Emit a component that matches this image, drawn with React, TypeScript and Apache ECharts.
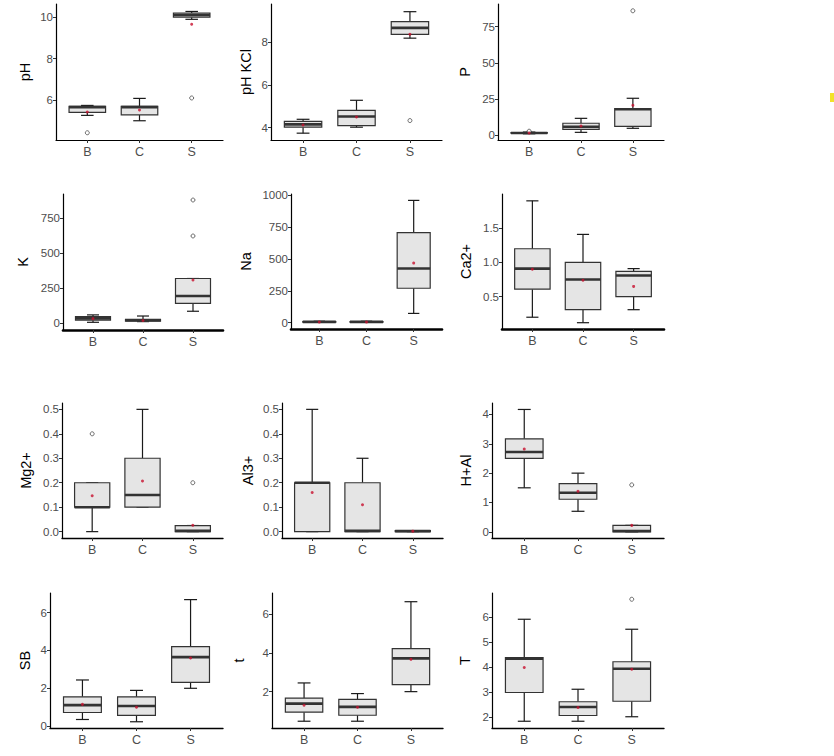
import { useEffect, useRef } from "react";
import * as echarts from "echarts";

const groups = ["B", "C", "S"];

// each box: [min, Q1, median, Q3, max] for B, C, S; outliers: [group (1..3), value]
const phBox = [[5.26, 5.4, 5.66, 5.7, 5.74], [5.0, 5.28, 5.66, 5.69, 6.08], [9.9, 10.0, 10.1, 10.2, 10.28]];
const phMean = [5.42, 5.52, 9.66];
const phOut = [[1, 4.42], [3, 6.1]];
const phTicks = [6, 8, 10];

const phkclBox = [[3.74, 4.02, 4.15, 4.29, 4.39], [4.02, 4.09, 4.52, 4.81, 5.28], [8.19, 8.37, 8.67, 8.96, 9.43]];
const phkclMean = [4.12, 4.5, 8.37];
const phkclOut = [[3, 4.33]];
const phkclTicks = [4, 6, 8];

const pBox = [[0.8, 1.2, 1.4, 1.7, 2.0], [1.8, 3.9, 5.7, 8.1, 11.5], [4.6, 6.0, 17.8, 18.2, 25.4]];
const pMean = [1.3, 6.2, 20.5];
const pOut = [[1, 2.6], [3, 86]];
const pTicks = [0, 25, 50, 75];

const kBox = [[7, 22, 35, 47, 60], [12, 15, 22, 28, 52], [86, 143, 195, 320, 320]];
const kMean = [33, 20, 309];
const kOut = [[3, 624], [3, 881]];
const kTicks = [0, 250, 500, 750];

const naBox = [[3, 5, 7, 9, 12], [3, 5, 7, 9, 12], [73, 270, 425, 705, 958]];
const naMean = [5, 5, 467];
const naOut: number[][] = [];
const naTicks = [0, 250, 500, 750, 1000];

const caBox = [[0.2, 0.61, 0.91, 1.2, 1.9], [0.12, 0.31, 0.75, 1.0, 1.41], [0.31, 0.5, 0.81, 0.87, 0.91]];
const caMean = [0.9, 0.74, 0.65];
const caOut: number[][] = [];
const caTicks = [0.5, 1.0, 1.5];

const mgBox = [[0, 0.1, 0.1, 0.2, 0.2], [0.1, 0.1, 0.15, 0.3, 0.5], [0, 0, 0.003, 0.025, 0.025]];
const mgMean = [0.147, 0.207, 0.026];
const mgOut = [[1, 0.4], [3, 0.2]];
const mgTicks = [0, 0.1, 0.2, 0.3, 0.4, 0.5];

const alBox = [[0, 0, 0.2, 0.2, 0.5], [0, 0, 0.003, 0.2, 0.3], [0, 0, 0.002, 0.004, 0.004]];
const alMean = [0.16, 0.11, 0.002];
const alOut: number[][] = [];
const alTicks = [0, 0.1, 0.2, 0.3, 0.4, 0.5];

const halBox = [[1.5, 2.5, 2.72, 3.17, 4.17], [0.7, 1.11, 1.33, 1.64, 2.0], [0, 0, 0.03, 0.22, 0.22]];
const halMean = [2.82, 1.38, 0.22];
const halOut = [[3, 1.6]];
const halTicks = [0, 1, 2, 3, 4];

const sbBox = [[0.35, 0.72, 1.11, 1.55, 2.44], [0.23, 0.57, 1.06, 1.55, 1.89], [2.0, 2.31, 3.65, 4.2, 6.69]];
const sbMean = [1.15, 1.0, 3.6];
const sbOut: number[][] = [];
const sbTicks = [0, 2, 4, 6];

const tBox = [[0.47, 0.94, 1.38, 1.66, 2.45], [0.47, 0.78, 1.21, 1.6, 1.9], [2.0, 2.36, 3.72, 4.22, 6.65]];
const tMean = [1.3, 1.19, 3.67];
const tOut: number[][] = [];
const tTicks = [2, 4, 6];

const TBox = [[1.82, 2.97, 4.32, 4.37, 5.9], [1.82, 2.05, 2.39, 2.6, 3.1], [2.0, 2.62, 3.92, 4.2, 5.5]];
const TMean = [3.97, 2.37, 3.9];
const TOut = [[3, 6.7]];
const TTicks = [2, 3, 4, 5, 6];

const panels = [
  { name: "pH", box: phBox, mean: phMean, out: phOut, ticks: phTicks, range: [4.07, 10.64], dec: 0 },
  { name: "pH KCl", box: phkclBox, mean: phkclMean, out: phkclOut, ticks: phkclTicks, range: [3.42, 9.79], dec: 0 },
  { name: "P", box: pBox, mean: pMean, out: pOut, ticks: pTicks, range: [-3.5, 90.7], dec: 0 },
  { name: "K", box: kBox, mean: kMean, out: kOut, ticks: kTicks, range: [-48, 924], dec: 0 },
  { name: "Na", box: naBox, mean: naMean, out: naOut, ticks: naTicks, range: [-49, 1008], dec: 0 },
  { name: "Ca2+", box: caBox, mean: caMean, out: caOut, ticks: caTicks, range: [0.028, 2.0], dec: 1 },
  { name: "Mg2+", box: mgBox, mean: mgMean, out: mgOut, ticks: mgTicks, range: [-0.026, 0.526], dec: 1 },
  { name: "Al3+", box: alBox, mean: alMean, out: alOut, ticks: alTicks, range: [-0.026, 0.526], dec: 1 },
  { name: "H+Al", box: halBox, mean: halMean, out: halOut, ticks: halTicks, range: [-0.21, 4.39], dec: 0 },
  { name: "SB", box: sbBox, mean: sbMean, out: sbOut, ticks: sbTicks, range: [-0.1, 7.04], dec: 0 },
  { name: "t", box: tBox, mean: tMean, out: tOut, ticks: tTicks, range: [0.12, 7.1], dec: 0 },
  { name: "T", box: TBox, mean: TMean, out: TOut, ticks: TTicks, range: [1.55, 6.95], dec: 0 },
];

// plot-area rectangles and title gaps
const layout = [
  { left: 56, top: 4, width: 167, height: 136, gap: 24, xw: 1.2 },
  { left: 271, top: 4, width: 171, height: 136, gap: 18, xw: 1.2 },
  { left: 498, top: 4, width: 166, height: 136, gap: 26, xw: 1.2 },
  { left: 63, top: 194, width: 160, height: 136, gap: 33, xw: 2.6 },
  { left: 291, top: 194, width: 151, height: 135, gap: 38, xw: 2.6 },
  { left: 502, top: 194, width: 162, height: 135, gap: 29, xw: 2.6 },
  { left: 62, top: 403, width: 161, height: 135, gap: 29, xw: 1.4 },
  { left: 282, top: 403, width: 161, height: 135, gap: 27, xw: 1.4 },
  { left: 492, top: 403, width: 172, height: 135, gap: 19, xw: 1.4 },
  { left: 50, top: 593, width: 173, height: 135, gap: 18, xw: 1.4 },
  { left: 272, top: 593, width: 171, height: 135, gap: 26, xw: 1.4 },
  { left: 492, top: 593, width: 172, height: 135, gap: 20, xw: 1.4 },
];

const FONT = "Liberation Sans";
const INK = "#333333";

const renderBox = (_params: any, api: any) => {
  const x = api.value(0);
  const mn = api.value(1);
  const q1 = api.value(2);
  const md = api.value(3);
  const q3 = api.value(4);
  const mx = api.value(5);
  const tl = api.coord([x - 0.35, q3]);
  const br = api.coord([x + 0.35, q1]);
  const cx = api.coord([x, md])[0];
  const capL = api.coord([x - 0.12, md])[0];
  const capR = api.coord([x + 0.12, md])[0];
  const yMin = api.coord([x, mn])[1];
  const yMax = api.coord([x, mx])[1];
  const yMd = api.coord([x, md])[1];
  const stroke = { stroke: "#1a1a1a", lineWidth: 1.2 };
  return {
    type: "group",
    children: [
      { type: "line", shape: { x1: cx, y1: yMax, x2: cx, y2: tl[1] }, style: stroke },
      { type: "line", shape: { x1: cx, y1: br[1], x2: cx, y2: yMin }, style: stroke },
      { type: "line", shape: { x1: capL, y1: yMax, x2: capR, y2: yMax }, style: stroke },
      { type: "line", shape: { x1: capL, y1: yMin, x2: capR, y2: yMin }, style: stroke },
      {
        type: "rect",
        shape: { x: tl[0], y: tl[1], width: br[0] - tl[0], height: Math.max(br[1] - tl[1], 0.5) },
        style: { fill: "#e5e5e5", stroke: INK, lineWidth: 1.2 },
      },
      { type: "line", shape: { x1: tl[0], y1: yMd, x2: br[0], y2: yMd }, style: { stroke: INK, lineWidth: 2.6 } },
    ],
  };
};

export default function App() {
  const ref = useRef<HTMLDivElement>(null);

  useEffect(() => {
    if (!ref.current) return;
    const chart = echarts.init(ref.current, undefined, { renderer: "svg" });

    const series: any[] = [];
    panels.forEach((p, i) => {
      series.push({
        type: "custom",
        xAxisIndex: i,
        yAxisIndex: i,
        renderItem: renderBox,
        encode: { x: 0, y: [1, 2, 3, 4, 5] },
        data: p.box.map((b, k) => [k + 1, ...b]),
        silent: true,
      });
      series.push({
        type: "scatter",
        xAxisIndex: i,
        yAxisIndex: i,
        symbol: "circle",
        symbolSize: 4,
        itemStyle: { color: "#ffffff", borderColor: "#000", borderWidth: 0.7 },
        data: p.out,
        silent: true,
      });
      series.push({
        type: "scatter",
        xAxisIndex: i,
        yAxisIndex: i,
        symbol: "circle",
        symbolSize: 3,
        itemStyle: { color: "#c8102e" },
        data: p.mean.map((m, k) => [k + 1, m]),
        silent: true,
        z: 5,
      });
    });

    const option: any = {
      animation: false,
      backgroundColor: "#ffffff",
      grid: layout.map((l) => ({ left: l.left, top: l.top, width: l.width, height: l.height })),
      xAxis: panels.map((_p, i) => ({
        type: "value",
        gridIndex: i,
        min: 0.4,
        max: 3.6,
        splitLine: { show: false },
        axisLine: { show: true, onZero: false, lineStyle: { color: "#000", width: layout[i].xw } },
        axisTick: { show: true, customValues: [1, 2, 3], length: 3, lineStyle: { color: INK } },
        axisLabel: {
          customValues: [1, 2, 3],
          formatter: (v: number) => groups[Math.round(v) - 1] ?? "",
          color: "#4d4d4d",
          fontSize: 12.5,
          margin: 5,
          fontFamily: FONT,
        },
      })),
      yAxis: panels.map((p, i) => ({
        type: "value",
        gridIndex: i,
        min: p.range[0],
        max: p.range[1],
        name: p.name,
        nameLocation: "middle",
        nameGap: layout[i].gap,
        nameTextStyle: { color: "#000", fontSize: 14.5, fontFamily: FONT },
        splitLine: { show: false },
        axisLine: { show: true, onZero: false, lineStyle: { color: "#000", width: 1.2 } },
        axisTick: { show: true, customValues: p.ticks, length: 3, lineStyle: { color: INK } },
        axisLabel: {
          customValues: p.ticks,
          formatter: (v: number) => v.toFixed(p.dec),
          color: "#4d4d4d",
          fontSize: 11.5,
          margin: 3,
          fontFamily: FONT,
        },
      })),
      graphic: [
        { type: "rect", shape: { x: 830, y: 93, width: 4, height: 9 }, style: { fill: "#f2e22a" } },
      ],
      series,
    };

    chart.setOption(option);
    return () => chart.dispose();
  }, []);

  return <div ref={ref} style={{ position: "absolute", left: 0, top: 0, width: 834, height: 756 }} />;
}
